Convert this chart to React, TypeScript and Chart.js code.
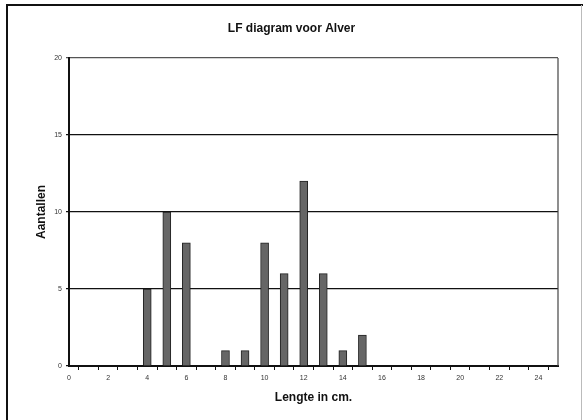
import React, { useEffect, useRef } from "react";
import { Chart, registerables } from "chart.js";

Chart.register(...registerables);

const lengths = [4, 5, 6, 8, 9, 10, 11, 12, 13, 14, 15];
const counts = [5, 10, 8, 1, 1, 8, 6, 12, 6, 1, 2];
const xTickLabels = ["0", "2", "4", "6", "8", "10", "12", "14", "16", "18", "20", "22", "24"];
const yTickLabels = ["0", "5", "10", "15", "20"];

const chartTitle = "LF diagram voor Alver";
const xTitle = "Lengte in cm.";
const yTitle = "Aantallen";

const FONT = "'Liberation Sans', Arial, sans-serif";

const framePlugin = {
  id: "frame",
  beforeDraw(chart: any) {
    const { ctx } = chart;
    ctx.save();
    ctx.fillStyle = "#ffffff";
    ctx.fillRect(0, 0, chart.width, chart.height);
    ctx.restore();
  },
  afterDraw(chart: any) {
    const { ctx, chartArea } = chart;
    ctx.save();
    ctx.strokeStyle = "#111";
    ctx.lineWidth = 2;
    ctx.beginPath();
    ctx.moveTo(7, 420);
    ctx.lineTo(7, 5);
    ctx.lineTo(583, 5);
    ctx.stroke();
    ctx.strokeStyle = "#bbb";
    ctx.lineWidth = 1;
    ctx.beginPath();
    ctx.moveTo(581.5, 5);
    ctx.lineTo(581.5, 420);
    ctx.stroke();
    ctx.strokeStyle = "#444";
    ctx.lineWidth = 1.2;
    ctx.beginPath();
    ctx.moveTo(chartArea.right, chartArea.top);
    ctx.lineTo(chartArea.right, chartArea.bottom);
    ctx.stroke();
    ctx.restore();
  },
};

export default function App() {
  const ref = useRef<HTMLCanvasElement>(null);

  useEffect(() => {
    if (!ref.current) return;
    const chart = new Chart(ref.current, {
      type: "bar",
      data: {
        datasets: [
          {
            data: lengths.map((x, i) => ({ x, y: counts[i] })),
            backgroundColor: "#666666",
            borderColor: "#222",
            borderWidth: 1,
            barThickness: 8,
          },
        ],
      },
      options: {
        animation: false,
        responsive: false,
        devicePixelRatio: 1,
        layout: { padding: { left: 0, right: 0, top: 0, bottom: 0 } },
        plugins: {
          legend: { display: false },
          tooltip: { enabled: false },
          title: {
            display: true,
            text: chartTitle,
            color: "#111",
            font: { family: FONT, size: 12, weight: "bold" },
            padding: { top: 21.8, bottom: 21.8 },
          },
        },
        scales: {
          x: {
            type: "linear",
            min: 0,
            max: 25,
            offset: false,
            afterFit: (s: any) => {
              s.height = 54;
            },
            ticks: {
              stepSize: 1,
              autoSkip: false,
              maxRotation: 0,
              padding: 4,
              color: "#333",
              font: { family: FONT, size: 7 },
              callback: (v: any) => {
                const s = String(v);
                return xTickLabels.includes(s) ? s : "";
              },
            },
            grid: {
              drawOnChartArea: false,
              drawTicks: true,
              tickLength: 4,
              color: "#111",
            },
            border: { color: "#111", width: 2 },
            title: {
              display: true,
              text: xTitle,
              color: "#111",
              font: { family: FONT, size: 12, weight: "bold" },
              padding: { top: 4, bottom: 14.8 },
            },
          },
          y: {
            min: 0,
            max: 20,
            afterFit: (s: any) => {
              s.width = 69;
            },
            ticks: {
              stepSize: 5,
              padding: 4,
              color: "#333",
              font: { family: FONT, size: 7 },
              callback: (v: any) => {
                const s = String(v);
                return yTickLabels.includes(s) ? s : "";
              },
            },
            grid: {
              drawTicks: true,
              tickLength: 3,
              color: (c: any) => (c.tick && c.tick.value === 20 ? "#555" : "#111"),
              lineWidth: 1.2,
            },
            border: { color: "#111", width: 2 },
            title: {
              display: true,
              text: yTitle,
              color: "#111",
              font: { family: FONT, size: 12, weight: "bold" },
              padding: { top: 34.8, bottom: 4 },
            },
          },
          yRight: {
            position: "right",
            display: true,
            min: 0,
            max: 20,
            afterFit: (s: any) => {
              s.width = 25;
            },
            ticks: { display: false },
            grid: { display: false, drawTicks: false },
            border: { display: false },
          },
        },
      },
      plugins: [framePlugin],
    } as any);
    return () => chart.destroy();
  }, []);

  return (
    <div style={{ position: "fixed", left: 0, top: 0, width: 583, height: 420, background: "#fff" }}>
      <canvas ref={ref} width={583} height={420} style={{ width: 583, height: 420, display: "block" }} />
    </div>
  );
}
